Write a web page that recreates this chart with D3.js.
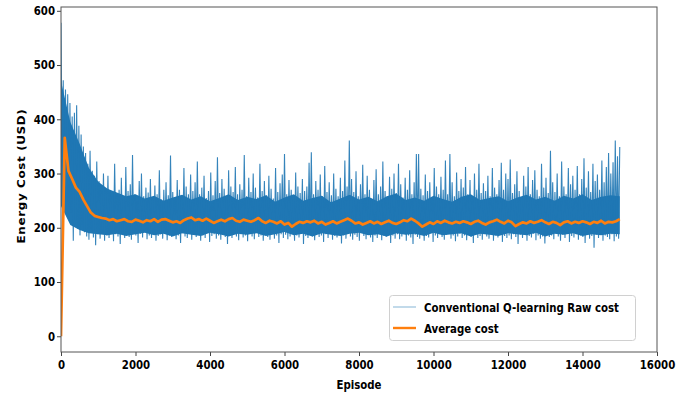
<!DOCTYPE html>
<html>
<head>
<meta charset="utf-8">
<script src="https://cdn.jsdelivr.net/npm/d3@7"></script>
<style>
  body { margin: 0; background: #fff; }
  svg text { font-family: "DejaVu Sans", sans-serif; font-weight: bold; font-size: 12px; fill: #000; }
</style>
</head>
<body>
<figure id="chart" style="margin:0"></figure>
<script>
// raw cost, one reading every 30 episodes (high / low swings of the noisy band)
const rawStep = 30;
const rawCost = [
  578, 310, 472, 262, 455, 248, 446, 236, 430, 228, 405, 176, 412, 214, 426, 198, 388, 186, 372, 205,
  350, 192, 338, 184, 318, 178, 342, 196, 305, 182, 296, 168, 322, 188, 286, 180, 278, 190, 300, 176,
  272, 186, 296, 181, 265, 192, 258, 175, 318, 188, 262, 184, 270, 170, 292, 187, 255, 181, 312, 192,
  268, 183, 280, 178, 334, 190, 262, 186, 248, 172, 286, 189, 300, 182, 258, 194, 274, 179, 265, 186,
  290, 181, 256, 190, 278, 176, 262, 185, 306, 188, 252, 180, 270, 193, 284, 177, 260, 186, 333, 183,
  266, 188, 252, 179, 288, 186, 270, 172, 258, 190, 310, 184, 276, 181, 262, 192, 298, 178, 268, 187,
  284, 183, 322, 189, 262, 176, 274, 186, 296, 181, 255, 191, 268, 174, 302, 185, 260, 188, 286, 180,
  330, 186, 264, 178, 290, 192, 272, 183, 258, 170, 306, 187, 276, 181, 266, 190, 312, 184, 262, 177,
  280, 188, 270, 182, 334, 186, 258, 175, 292, 190, 266, 184, 300, 179, 274, 191, 256, 183, 318, 186,
  268, 176, 286, 189, 260, 183, 296, 178, 272, 192, 254, 180, 310, 186, 266, 172, 282, 188, 298, 181,
  336, 187, 262, 179, 288, 184, 270, 191, 256, 176, 302, 186, 276, 182, 264, 190, 290, 170, 268, 185,
  276, 181, 320, 189, 339, 184, 262, 177, 286, 192, 270, 183, 298, 186, 258, 174, 314, 188, 266, 181,
  284, 190, 260, 178, 300, 185, 272, 182, 258, 188, 292, 171, 268, 186, 324, 180, 276, 190, 361, 184,
  290, 178, 266, 187, 304, 183, 258, 176, 280, 191, 316, 185, 262, 179, 296, 188, 270, 182, 254, 174,
  288, 186, 308, 181, 262, 190, 276, 177, 322, 185, 268, 183, 258, 189, 294, 172, 272, 186, 300, 180,
  264, 188, 318, 179, 280, 184, 256, 191, 292, 176, 270, 186, 306, 182, 262, 170, 284, 187, 336, 183,
  336, 180, 272, 189, 260, 176, 298, 185, 268, 182, 284, 190, 256, 174, 310, 186, 276, 181, 262, 188,
  294, 183, 270, 178, 324, 187, 262, 192, 336, 180, 284, 186, 258, 175, 302, 184, 268, 189, 290, 181,
  274, 186, 312, 177, 262, 190, 288, 183, 256, 172, 300, 187, 270, 181, 318, 185, 264, 178, 282, 189,
  268, 184, 296, 180, 258, 191, 310, 176, 274, 186, 262, 182, 288, 189, 320, 174, 270, 185, 300, 181,
  290, 186, 326, 179, 264, 188, 280, 183, 304, 170, 268, 187, 256, 181, 296, 190, 276, 176, 312, 185,
  262, 182, 288, 189, 306, 177, 270, 186, 258, 180, 318, 184, 274, 171, 292, 188, 264, 183, 342, 186,
  284, 179, 266, 190, 300, 184, 258, 176, 322, 187, 276, 181, 262, 189, 310, 174, 280, 185, 296, 182,
  270, 188, 314, 178, 262, 186, 290, 183, 328, 172, 274, 189, 304, 180, 266, 185, 318, 163, 286, 187,
  298, 181, 270, 190, 324, 176, 284, 186, 312, 183, 338, 179, 300, 188, 321, 175, 361, 184, 332, 180,
  349
];

// dense core of the raw band (where the overlapping raw line is solid), every 250 episodes
const bandStep = 250;
const bandHigh = [
  470, 395, 355, 310, 285, 272, 265, 258, 262, 254,
  259, 250, 256, 261, 252, 258, 249, 255, 262, 251,
  257, 253, 260, 248, 256, 262, 250, 255, 259, 247,
  254, 261, 252, 257, 249, 258, 263, 251, 256, 250,
  259, 253, 248, 257, 262, 251, 255, 258, 249, 256,
  261, 252, 257, 250, 259, 254, 262, 251, 257, 260,
  258
];
const bandLow = [
  240, 205, 196, 190, 188, 186, 189, 185, 188, 191,
  186, 189, 184, 190, 187, 185, 191, 188, 184, 189,
  187, 190, 185, 188, 192, 186, 189, 184, 190, 187,
  185, 189, 191, 186, 188, 184, 190, 187, 189, 185,
  191, 186, 188, 190, 184, 189, 187, 185, 190, 188,
  186, 191, 184, 189, 187, 190, 185, 188, 186, 189,
  188
];

// running average, one reading every 100 episodes
const avgStep = 100;
const avgCost = [
  0, 366, 305, 290, 274, 266, 252, 240, 228, 222,
  220, 218, 217, 214, 216, 212, 214, 216, 212, 211,
  215, 213, 210, 214, 212, 216, 211, 215, 216, 213,
  210, 212, 209, 214, 217, 219, 214, 216, 213, 217,
  213, 209, 212, 215, 212, 216, 218, 213, 211, 215,
  213, 211, 214, 218, 212, 209, 213, 211, 208, 212,
  206, 209, 202, 207, 211, 209, 212, 210, 213, 208,
  211, 206, 209, 212, 208, 211, 214, 217, 213, 208,
  210, 206, 209, 212, 208, 211, 207, 210, 213, 209,
  207, 210, 214, 212, 217, 213, 208, 202, 206, 210,
  207, 212, 209, 213, 210, 208, 211, 209, 212, 210,
  207, 211, 213, 209, 206, 210, 212, 215, 211, 208,
  213, 210, 203, 207, 210, 208, 212, 209, 211, 214,
  210, 207, 211, 209, 205, 210, 212, 208, 211, 209,
  212, 210, 207, 211, 209, 213, 208, 211, 210, 212,
  216
];

const xTicks = [0, 2000, 4000, 6000, 8000, 10000, 12000, 14000, 16000];
const yTicks = [0, 100, 200, 300, 400, 500, 600];
const seriesNames = ["Conventional Q-learning Raw cost", "Average cost"];

const width = 693, height = 399;
const plot = {left: 61, right: 657, top: 7, bottom: 352};
const squeeze = 0.85; // text in the reference is narrowed horizontally

const svg = d3.select("#chart")
  .append("svg")
  .attr("width", width)
  .attr("height", height);

const x = d3.scaleLinear().domain([0, 16000]).range([plot.left, plot.right]);
const y = d3.scaleLinear().domain([-29, 607]).range([plot.bottom, plot.top]);

svg.append("clipPath").attr("id", "clip")
  .append("rect")
  .attr("x", plot.left).attr("y", plot.top)
  .attr("width", plot.right - plot.left).attr("height", plot.bottom - plot.top);

// solid core of the raw band
const bandArea = d3.area()
  .x((d, i) => x(i * bandStep))
  .y0(d => y(d[0]))
  .y1(d => y(d[1]));

svg.append("path")
  .datum(bandLow.map((v, i) => [v, bandHigh[i]]))
  .attr("clip-path", "url(#clip)")
  .attr("fill", "#1f77b4")
  .attr("d", bandArea);

// raw cost line
const rawLine = d3.line()
  .x((d, i) => x(i * rawStep))
  .y(d => y(d));

svg.append("path")
  .datum(rawCost)
  .attr("clip-path", "url(#clip)")
  .attr("fill", "none")
  .attr("stroke", "#1f77b4")
  .attr("stroke-width", 1.1)
  .attr("stroke-opacity", 0.9)
  .attr("d", rawLine);

// average line
const avgLine = d3.line()
  .x((d, i) => x(i * avgStep))
  .y(d => y(d));

svg.append("path")
  .datum(avgCost)
  .attr("clip-path", "url(#clip)")
  .attr("fill", "none")
  .attr("stroke", "#ff7f0e")
  .attr("stroke-width", 2.7)
  .attr("stroke-linejoin", "round")
  .attr("d", avgLine);

// axes
const xAxis = svg.append("g")
  .attr("transform", "translate(0," + plot.bottom + ")")
  .call(d3.axisBottom(x).tickValues(xTicks).tickFormat(d3.format("d")).tickSize(4).tickSizeOuter(0).tickPadding(4));

const yAxis = svg.append("g")
  .attr("transform", "translate(" + plot.left + ",0)")
  .call(d3.axisLeft(y).tickValues(yTicks).tickSize(4).tickSizeOuter(0).tickPadding(3));

[xAxis, yAxis].forEach(g => {
  g.attr("font-family", null).attr("font-size", null);
  g.select(".domain").remove();
  g.selectAll(".tick line").attr("stroke", "#444");
  g.selectAll(".tick text").attr("fill", "#000").attr("transform", "scale(" + squeeze + ",1)");
});

// frame
svg.append("rect")
  .attr("x", plot.left).attr("y", plot.top)
  .attr("width", plot.right - plot.left).attr("height", plot.bottom - plot.top)
  .attr("fill", "none")
  .attr("stroke", "#555")
  .attr("stroke-width", 1);

// axis titles
svg.append("text")
  .attr("text-anchor", "middle")
  .attr("transform", "translate(359,389) scale(" + squeeze + ",1)")
  .text("Episode");

svg.append("text")
  .attr("text-anchor", "middle")
  .attr("transform", "translate(25,176) scale(" + squeeze + ",1) rotate(-90)")
  .style("letter-spacing", "0.6px")
  .text("Energy Cost (USD)");

// legend
const legend = svg.append("g");
legend.append("rect")
  .attr("x", 389.5).attr("y", 295.5)
  .attr("width", 246).attr("height", 45)
  .attr("rx", 3)
  .attr("fill", "#fff")
  .attr("fill-opacity", 0.8)
  .attr("stroke", "#d0d0d0");

const legendRows = [
  {name: seriesNames[0], color: "#1f77b4", opacity: 0.45, w: 1.2, y: 307},
  {name: seriesNames[1], color: "#ff7f0e", opacity: 1, w: 2.4, y: 328}
];
legendRows.forEach(r => {
  legend.append("line")
    .attr("x1", 393).attr("x2", 416)
    .attr("y1", r.y).attr("y2", r.y)
    .attr("stroke", r.color)
    .attr("stroke-opacity", r.opacity)
    .attr("stroke-width", r.w);
  legend.append("text")
    .attr("transform", "translate(424," + (r.y + 4.5) + ") scale(" + squeeze + ",1)")
    .text(r.name);
});
</script>
</body>
</html>
